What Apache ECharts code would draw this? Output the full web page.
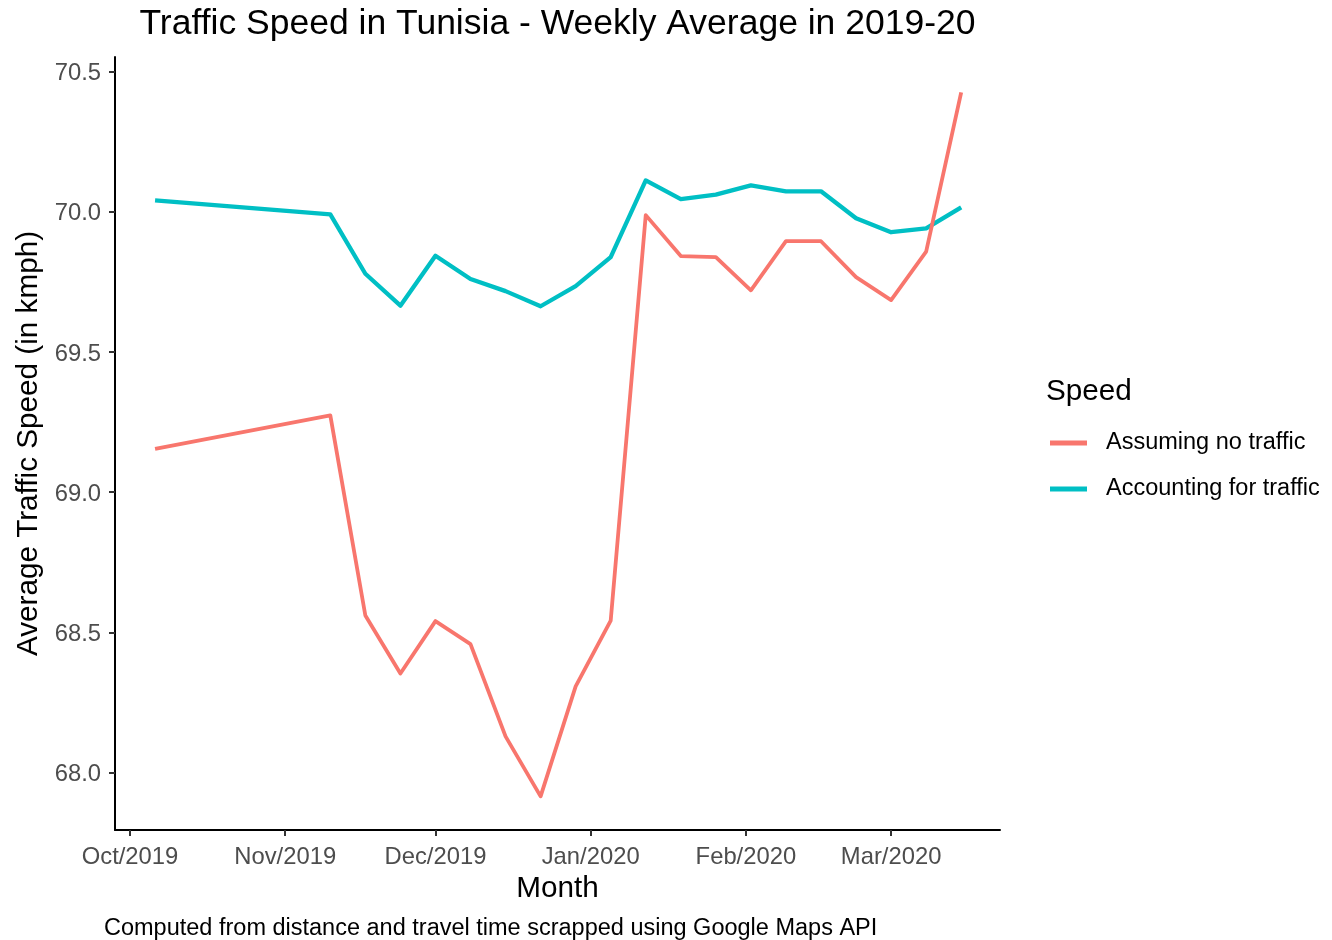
<!DOCTYPE html>
<html>
<head>
<meta charset="utf-8">
<title>Traffic Speed in Tunisia</title>
<script src="https://cdn.jsdelivr.net/npm/echarts@6.0.0/dist/echarts.min.js"></script>
<style>
  html, body { margin: 0; padding: 0; background: #fff; }
  #chart { width: 1332px; height: 940px; }
</style>
</head>
<body>
<div id="chart"></div>
<script>
  // week start dates (weekly averages, gap between Oct and Nov)
  var weeks = ['2019-10-06', '2019-11-10', '2019-11-17', '2019-11-24', '2019-12-01',
               '2019-12-08', '2019-12-15', '2019-12-22', '2019-12-29', '2020-01-05',
               '2020-01-12', '2020-01-19', '2020-01-26', '2020-02-02', '2020-02-09',
               '2020-02-16', '2020-02-23', '2020-03-01', '2020-03-08', '2020-03-15'];

  // average speed assuming no traffic (kmph)
  var noTraffic = [69.154, 69.274, 68.560, 68.353, 68.540,
                   68.458, 68.129, 67.915, 68.307, 68.542,
                   69.988, 69.842, 69.838, 69.720, 69.895,
                   69.895, 69.767, 69.685, 69.858, 70.426];

  // average speed accounting for traffic (kmph)
  var withTraffic = [70.041, 69.991, 69.779, 69.665, 69.843,
                     69.760, 69.717, 69.663, 69.735, 69.838,
                     70.112, 70.045, 70.061, 70.094, 70.073,
                     70.073, 69.977, 69.927, 69.941, 70.016];

  var seriesNames = ['Assuming no traffic', 'Accounting for traffic'];
  var monthTicks = ['2019-10-01', '2019-11-01', '2019-12-01', '2020-01-01', '2020-02-01', '2020-03-01'];
  var monthNames = ['Jan', 'Feb', 'Mar', 'Apr', 'May', 'Jun', 'Jul', 'Aug', 'Sep', 'Oct', 'Nov', 'Dec'];
  var speedTicks = [68.0, 68.5, 69.0, 69.5, 70.0, 70.5];

  var DAY = 24 * 3600 * 1000;
  var FONT = 'Liberation Sans, Arial, sans-serif';

  function toTime(s) {
    var p = s.split('-');
    return Date.UTC(+p[0], +p[1] - 1, +p[2]);
  }

  function pairs(vals) {
    return weeks.map(function (w, i) { return [toTime(w), vals[i]]; });
  }

  var tickTimes = monthTicks.map(toTime);
  // padding around the data range, as in the ggplot panel
  var xMin = toTime(weeks[0]) - 8 * DAY;
  var xMax = toTime(weeks[weeks.length - 1]) + 7.75 * DAY;

  var chart = echarts.init(document.getElementById('chart'), null, { renderer: 'canvas' });

  chart.setOption({
    animation: false,
    backgroundColor: '#fff',
    textStyle: { fontFamily: FONT },
    grid: { left: 115, right: 332, top: 57, bottom: 110, containLabel: false },
    legend: {
      orient: 'vertical',
      left: 1045,
      top: 423,
      icon: 'rect',
      itemWidth: 37,
      itemHeight: 5,
      itemGap: 16,
      data: seriesNames,
      selectedMode: false,
      textStyle: { fontSize: 23.5, color: '#000', fontFamily: FONT, lineHeight: 30, padding: [0, 0, 0, 14] }
    },
    // dates drawn on a numeric (ms) axis so that ticks can sit on month starts
    xAxis: {
      type: 'value',
      min: xMin,
      max: xMax,
      name: 'Month',
      nameLocation: 'middle',
      nameGap: 44,
      nameTextStyle: { fontSize: 29.7, color: '#000', fontFamily: FONT },
      axisLine: { show: true, onZero: false, lineStyle: { color: '#000', width: 2 } },
      axisTick: { show: true, length: 6, customValues: tickTimes, lineStyle: { color: '#333', width: 2 } },
      axisLabel: {
        customValues: tickTimes,
        margin: 15,
        fontSize: 23.8,
        color: '#4d4d4d',
        fontFamily: FONT,
        hideOverlap: false,
        formatter: function (v) {
          var d = new Date(v);
          return monthNames[d.getUTCMonth()] + '/' + d.getUTCFullYear();
        }
      },
      splitLine: { show: false }
    },
    yAxis: {
      type: 'value',
      min: 67.795,
      max: 70.552,
      name: 'Average Traffic Speed (in kmph)',
      nameLocation: 'middle',
      nameGap: 63,
      nameTextStyle: { fontSize: 29.7, color: '#000', fontFamily: FONT },
      axisLine: { show: true, onZero: false, lineStyle: { color: '#000', width: 2 } },
      axisTick: { show: true, length: 6, customValues: speedTicks, lineStyle: { color: '#333', width: 2 } },
      axisLabel: {
        customValues: speedTicks,
        margin: 14,
        fontSize: 23.8,
        color: '#4d4d4d',
        fontFamily: FONT,
        formatter: function (v) { return '{v|' + v.toFixed(1) + '}'; },
        rich: {
          v: { fontSize: 23.8, color: '#4d4d4d', fontFamily: FONT, padding: [4, 0, 0, 0] }
        }
      },
      splitLine: { show: false }
    },
    graphic: [
      {
        type: 'text', x: 557.5, y: 24,
        style: { text: 'Traffic Speed in Tunisia - Weekly Average in 2019-20', fontSize: 35.5, fontFamily: FONT,
                 fill: '#000', align: 'center', verticalAlign: 'middle' }
      },
      {
        type: 'text', x: 1046, y: 392,
        style: { text: 'Speed', fontSize: 29.7, fontFamily: FONT, fill: '#000',
                 align: 'left', verticalAlign: 'middle' }
      },
      {
        type: 'text', x: 104, y: 929,
        style: { text: 'Computed from distance and travel time scrapped using Google Maps API', fontSize: 23.5,
                 fontFamily: FONT, fill: '#000', align: 'left', verticalAlign: 'middle' }
      }
    ],
    series: [
      {
        name: seriesNames[1],
        type: 'line',
        data: pairs(withTraffic),
        symbol: 'none',
        color: '#00BFC4',
        lineStyle: { width: 4.3, color: '#00BFC4', join: 'round' }
      },
      {
        name: seriesNames[0],
        type: 'line',
        data: pairs(noTraffic),
        symbol: 'none',
        color: '#F8766D',
        lineStyle: { width: 3.8, color: '#F8766D', join: 'round' }
      }
    ]
  });
</script>
</body>
</html>
